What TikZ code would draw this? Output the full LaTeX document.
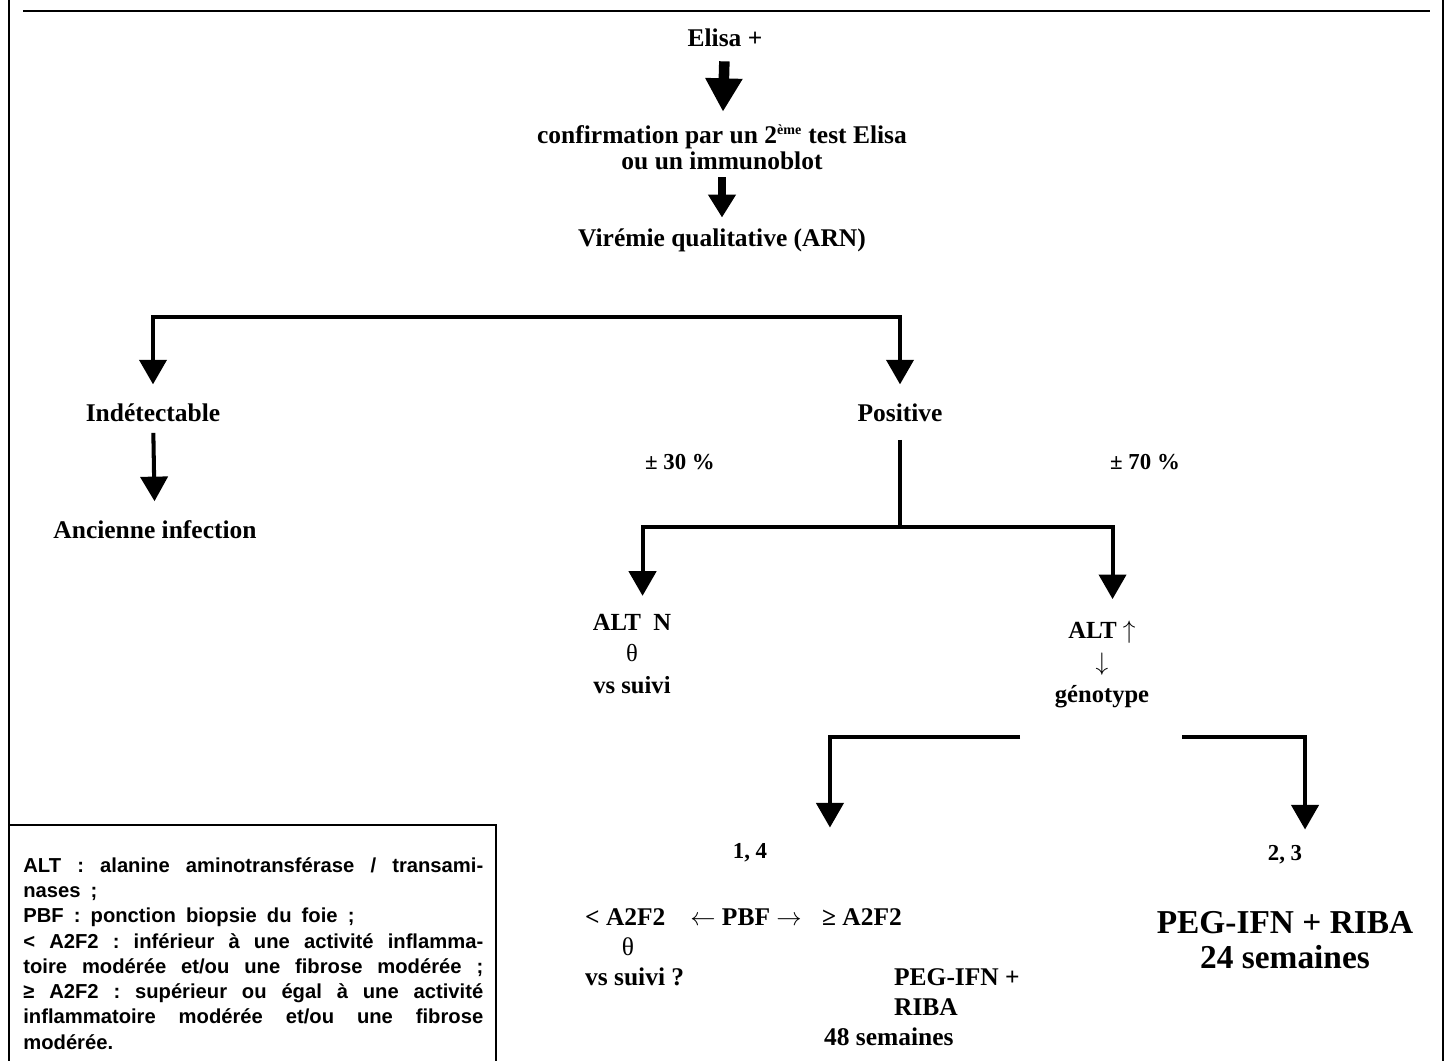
\documentclass[tikz,border=0pt]{standalone}
\usepackage{fontspec}
\setmainfont{Liberation Serif}
\newfontfamily\legendfont{Liberation Sans}
\usetikzlibrary{arrows.meta}
\usetikzlibrary{positioning}

\tikzset{
    lbl/.style={font=\bfseries\fontsize{14.5}{14.8}\selectfont, align=center, inner sep=1pt},
    lblsm/.style={font=\bfseries\fontsize{13}{15}\selectfont, inner sep=1pt},
    lblalt/.style={font=\bfseries\fontsize{14}{18.2}\selectfont, align=center, inner sep=1pt},
    lblbig/.style={font=\bfseries\fontsize{19}{20}\selectfont, align=center, inner sep=1pt},
    flow/.style={line width=2.3pt, -{Triangle[width=15.4pt,length=14pt]}},
    bigflow/.style={line width=6pt, -{Triangle[width=20pt,length=19pt]}},
    midflow/.style={line width=5pt, -{Triangle[width=15pt,length=13pt]}},
    branch/.style={line width=2.3pt},
}
\newcommand{\thin}[1]{{\mdseries #1}}

\begin{document}
\begin{tikzpicture}[x=0.02cm,y=-0.02cm]
    \useasboundingbox (0,0) rectangle (1449,1061);

    % page frame
    \draw[line width=1.6pt] (9,0) -- (9,1061);
    \draw[line width=1.6pt] (1443,0) -- (1443,1061);
    \draw[line width=1pt] (23,11) -- (1430,11);

    % top of the tree
    \node[lbl] (elisa) at (725,38) {Elisa +};
    \node[lbl] (confirm) at (722,147) {confirmation par un 2\textsuperscript{\fontsize{8}{8}\selectfont ème} test Elisa\\ou un immunoblot};
    \node[lbl] (viremie) at (722,240) {Virémie qualitative (ARN)};
    \draw[bigflow, shorten <=7pt, shorten >=6pt] (elisa) -- (confirm);
    \draw[midflow, shorten <=3pt, shorten >=5pt] (confirm) -- (viremie);

    \coordinate (barL) at (153,317);
    \coordinate (barR) at (902,317);
    \node[lbl] (indet) at (153,413) {Indétectable};
    \node[lbl] (positive) at (900,413) {Positive};
    \node[lbl] (ancienne) at (155,530) {Ancienne infection};
    \draw[flow, shorten >=10pt] (barR) -| (indet);
    \draw[flow, shorten >=10pt] (barL) -| (positive);
    \draw[flow, shorten <=5pt, shorten >=10pt] (indet) -- (ancienne);

    % positive branch
    \coordinate (split) at (900,527);
    \node[lblsm] (p30) at (680,462) {± 30 \%};
    \node[lblsm] (p70) at (1145,462) {± 70 \%};
    \node[lblalt] (altn) at (632,654) {ALT~~N\\\thin{θ}\\vs suivi};
    \node[lblalt] (altup) at (1102,664) {ALT \thin{\Large$\uparrow$}\\\thin{$\downarrow$}\\génotype};
    \draw[branch, shorten <=9pt] (positive) -- (split);
    \draw[flow, shorten >=9pt] (split) -| ([xshift=6pt]altn.north);
    \draw[flow, shorten >=11pt] (split) -| ([xshift=6pt]altup.north);

    % genotypes
    \coordinate (gL) at (1020,737);
    \coordinate (gR) at (1182,737);
    \node[lblsm] (g14) at (750,853) {1, 4};
    \node[lblsm] (g23) at (1285,855) {2, 3};
    \draw[flow, shorten >=8pt] (gL) -| ([xshift=45.5pt]g14.north);
    \draw[flow, shorten >=8pt] (gR) -| ([xshift=11.4pt]g23.north);

    \node[lbl, anchor=west] (infA) at (583,917) {< A2F2};
    \node[lbl] (pbf) at (746,917) {$\leftarrow$ PBF $\rightarrow$};
    \node[lbl, anchor=west] (supA) at (820,917) {≥ A2F2};
    \node[lbl] (theta) at (628,947) {\thin{θ}};
    \node[lbl, anchor=west] (suivi) at (583,977) {vs suivi ?};
    \node[lbl, anchor=west, align=left, font=\bfseries\fontsize{14.5}{17}\selectfont] (peg48) at (892,992) {PEG-IFN +\\RIBA};
    \node[lbl, anchor=west] (sem48) at (822,1037) {48 semaines};
    \node[lblbig] (peg24) at (1285,940) {PEG-IFN + RIBA\\24 semaines};

    % legend box
    \draw[line width=1pt] (9,825) -- (496,825) -- (496,1061);
    \node[anchor=north west, inner sep=0pt, text width=9.2cm, align=justify,
          font=\legendfont\bfseries\fontsize{11.5}{14.4}\selectfont] (legend) at (23,857)
    {\frenchspacing\spaceskip=0.5em plus 0.3em minus 0.15em
     ALT : alanine aminotransférase / transami-\linebreak nases ;\\
     PBF : ponction biopsie du foie ;\\
     < A2F2 : inférieur à une activité inflamma-\linebreak toire modérée et/ou une fibrose modérée ;\linebreak
     ≥ A2F2 : supérieur ou égal à une activité\linebreak inflammatoire modérée et/ou une fibrose\linebreak modérée.};
\end{tikzpicture}
\end{document}
